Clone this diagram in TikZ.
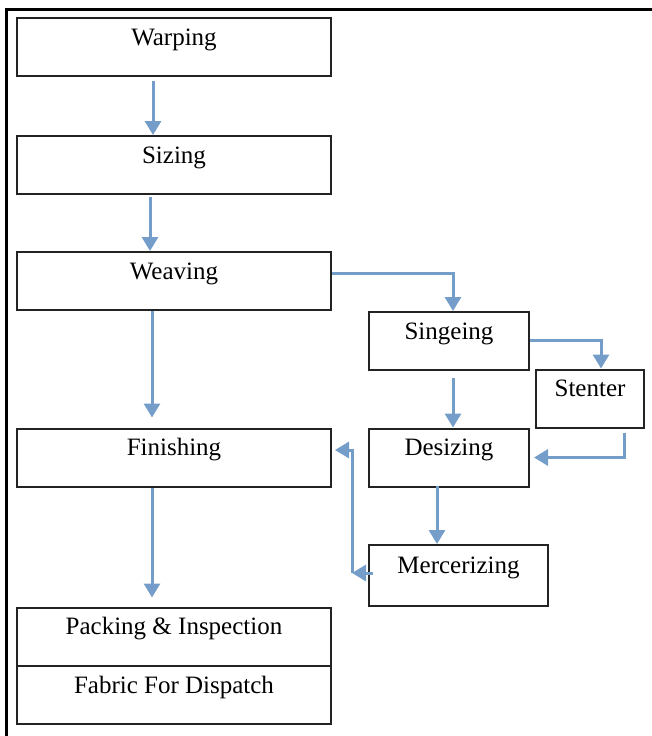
\documentclass[tikz,border=0pt]{standalone}
\usepackage{fontspec}
\setmainfont{Liberation Serif}
\usepackage{xcolor}
\usetikzlibrary{arrows.meta}
\definecolor{flowblue}{RGB}{116,157,201}
\definecolor{boxgray}{RGB}{35,35,35}
\tikzset{>={Triangle[width=16pt,length=14pt]}}
\tikzset{
    box/.style={draw=boxgray, line width=2pt, minimum width=#1, inner xsep=0pt,
        inner ysep=4pt, text height=23pt, text depth=27pt,
        font=\fontsize{25}{27}\selectfont},
    flow/.style={->, draw=flowblue, line width=3pt},
}

\begin{document}
\begin{tikzpicture}[x=1pt,y=-1pt]
    \useasboundingbox (0,0) rectangle (652,736);
    % outer frame (top and left only)
    \draw[line width=3pt] (6,736) -- (6,9) -- (652,9);
    % main column
    \node[box=314pt] (warp)   at (174,47)    {Warping};
    \node[box=314pt] (size)   at (174,165)   {Sizing};
    \node[box=314pt] (weave)  at (174,281)   {Weaving};
    \node[box=314pt] (finish) at (174,457.5) {Finishing};
    \node[box=314pt] (pack)   at (174,636.5) {Packing \& Inspection};
    \node[box=314pt] (fabric) at (174,695)   {Fabric For Dispatch};
    % processing branch
    \node[box=160pt] (singe)  at (449,341)   {Singeing};
    \node[box=108pt] (stent)  at (590,398.5) {Stenter};
    \node[box=160pt] (desize) at (449,457.5) {Desizing};
    \node[box=179pt, text height=24pt, text depth=29pt] (merc) at (458.5,575.5) {Mercerizing};
    \coordinate (mturn) at (352,573);
    % connectors
    \draw[flow] ([xshift=-21pt,yshift=-4pt]warp.south) -- ([xshift=-21pt]size.north);
    \draw[flow] ([xshift=-24pt,yshift=-2pt]size.south) -- ([xshift=-24pt]weave.north);
    \draw[flow] ([xshift=-22pt]weave.south) -- ([xshift=-22pt,yshift=10pt]finish.north);
    \draw[flow] ([xshift=-22pt]finish.south) -- ([xshift=-22pt,yshift=9pt]pack.north);
    \draw[flow] ([yshift=8pt]weave.east) -| ([xshift=4pt]singe.north);
    \draw[flow] ([yshift=1pt]singe.east) -| ([xshift=11pt]stent.north);
    \draw[flow] ([xshift=4pt,yshift=-7pt]singe.south) -- ([xshift=4pt]desize.north);
    \draw[flow] ([xshift=34pt,yshift=-4pt]stent.south) |- ([xshift=4pt]desize.east);
    \draw[flow] ([xshift=-12pt,yshift=2pt]desize.south) -- ([xshift=-12pt]desize.south |- merc.north);
    \draw[flow] ([xshift=5pt,yshift=2.5pt]merc.west) -- (mturn);
    \draw[flow] (mturn) |- ([xshift=3pt,yshift=7.5pt]finish.east);
\end{tikzpicture}
\end{document}
